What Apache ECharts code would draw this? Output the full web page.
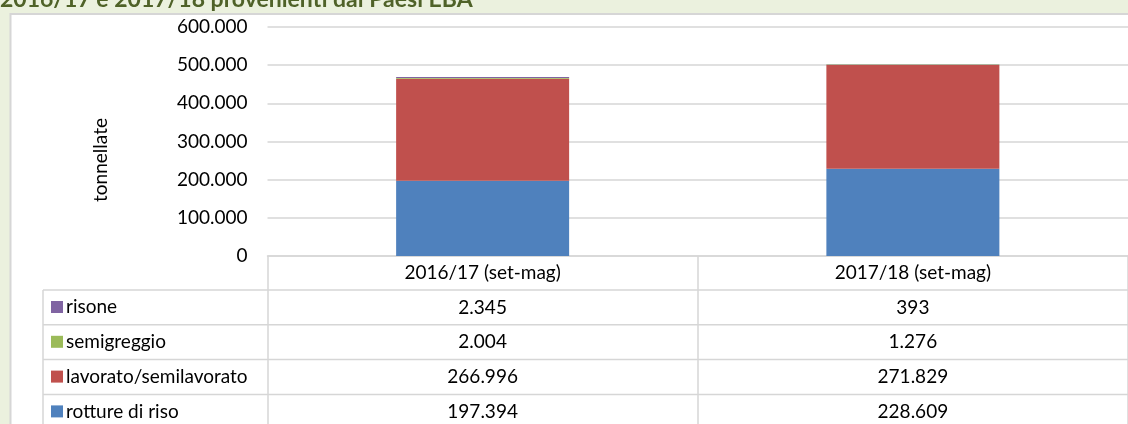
<!DOCTYPE html>
<html>
<head>
  <meta charset="utf-8">
  <title>Paesi EBA</title>
  <script src="https://cdn.jsdelivr.net/npm/echarts@6/dist/echarts.min.js"></script>
  <style>
    html, body { margin: 0; padding: 0; background: #EBF1DE; }
    #chart { width: 1128px; height: 424px; }
  </style>
</head>
<body>
<div id="chart"></div>
<script>
  // dati (tonnellate)
  var categories = ['2016/17 (set-mag)', '2017/18 (set-mag)'];
  var rotture = [197394, 228609];
  var lavorato = [266996, 271829];
  var semigreggio = [2004, 1276];
  var risone = [2345, 393];
  var yTicks = [0, 100000, 200000, 300000, 400000, 500000, 600000];

  var FONT = 'Lato';
  var FS = 19;
  var GRID_COLOR = '#D6D6D6';

  function fmt(v) {
    return String(v).replace(/\B(?=(\d{3})+(?!\d))/g, '.');
  }

  // righe della tabella, dall'alto in basso
  var rows = [
    {name: 'risone', data: risone, color: '#8064A2'},
    {name: 'semigreggio', data: semigreggio, color: '#9BBB59'},
    {name: 'lavorato/semilavorato', data: lavorato, color: '#C0504D'},
    {name: 'rotture di riso', data: rotture, color: '#4F81BD'}
  ];

  var chart = echarts.init(document.getElementById('chart'), null, {renderer: 'canvas'});

  // ordine di impilamento: dal basso verso l'alto
  var series = rows.slice().reverse().map(function (r) {
    return {
      name: r.name,
      type: 'bar',
      stack: 'tot',
      data: r.data,
      barWidth: 173,
      itemStyle: {color: r.color},
      emphasis: {disabled: true}
    };
  });

  chart.setOption({
    animation: false,
    textStyle: {fontFamily: FONT},
    grid: {left: 267.5, top: 27, width: 868, height: 229},
    legend: {
      orient: 'vertical',
      left: 51,
      top: 297,
      padding: 0,
      itemWidth: 12,
      itemHeight: 12,
      itemGap: 14.8,
      icon: 'rect',
      selectedMode: false,
      data: rows.map(function (r) { return r.name; }),
      textStyle: {fontFamily: FONT, fontSize: FS, color: '#000', lineHeight: 20, padding: [0, 0, 0, -2]}
    },
    xAxis: {
      type: 'category',
      data: categories,
      axisLine: {lineStyle: {color: GRID_COLOR, width: 1.5}},
      axisTick: {show: true, interval: 0, length: 180, lineStyle: {color: GRID_COLOR, width: 1.5}},
      axisLabel: {fontFamily: FONT, fontSize: FS, color: '#000', margin: 8, lineHeight: 18}
    },
    yAxis: {
      type: 'value',
      min: 0,
      max: 600000,
      interval: 100000,
      axisLine: {show: false},
      axisTick: {show: false},
      splitLine: {lineStyle: {color: GRID_COLOR, width: 1.5}},
      axisLabel: {
        fontFamily: FONT, fontSize: FS, color: '#000', margin: 20,
        formatter: function (v) { return yTicks.indexOf(v) >= 0 ? fmt(v) : ''; }
      }
    },
    series: series
  });

  // tabella dati sotto il grafico
  var tableTop = 290, rowH = 34.8, tableLeft = 43;
  var g = [
    {
      type: 'rect', z: -10, silent: true,
      shape: {x: 10.5, y: 14, width: 1200, height: 500},
      style: {fill: '#fff', stroke: GRID_COLOR, lineWidth: 2}
    },
    {
      type: 'text', silent: true,
      style: {
        x: 0, y: 0, text: '2016/17 e 2017/18 provenienti dai Paesi EBA',
        fill: '#4F6228', font: 'bold 23px ' + FONT, verticalAlign: 'middle'
      }
    },
    {
      type: 'text', silent: true, x: 101, y: 160, rotation: Math.PI / 2,
      style: {text: 'tonnellate', fill: '#000', font: FS + 'px ' + FONT, align: 'center', verticalAlign: 'middle'}
    },
    {
      type: 'line', silent: true,
      shape: {x1: tableLeft, y1: tableTop, x2: tableLeft, y2: 440},
      style: {stroke: GRID_COLOR, lineWidth: 1.5}
    }
  ];
  for (var i = 0; i <= rows.length; i++) {
    var y = tableTop + rowH * i;
    g.push({
      type: 'line', silent: true,
      shape: {x1: tableLeft, y1: y, x2: 1140, y2: y},
      style: {stroke: GRID_COLOR, lineWidth: 1.5}
    });
  }
  rows.forEach(function (r, ri) {
    r.data.forEach(function (v, ci) {
      var cx = chart.convertToPixel({xAxisIndex: 0}, categories[ci]);
      g.push({
        type: 'text', silent: true,
        style: {
          x: cx, y: tableTop + rowH * ri + rowH / 2, text: fmt(v),
          fill: '#000', font: FS + 'px ' + FONT, align: 'center', verticalAlign: 'middle'
        }
      });
    });
  });
  chart.setOption({graphic: g});
</script>
</body>
</html>
